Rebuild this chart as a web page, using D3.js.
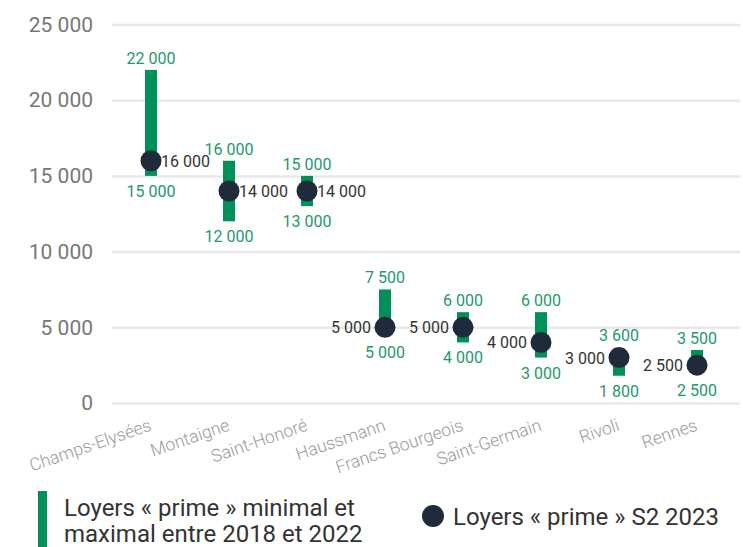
<!DOCTYPE html>
<html lang="fr"><head><meta charset="UTF-8">
<title>Loyers prime</title>
<script src="https://cdn.jsdelivr.net/npm/d3@7"></script>
<style>
  body { margin:0; background:#fff; }
  text { font-family: "Roboto", "Noto Sans", sans-serif; }
</style>
</head>
<body>
<div id="svg_div"></div>
<script>
// données
var rues = ["Champs-Elysées","Montaigne","Saint-Honoré","Haussmann","Francs Bourgeois","Saint-Germain","Rivoli","Rennes"];
var minVals = [15000,12000,13000,5000,4000,3000,1800,2500];
var maxVals = [22000,16000,15000,7500,6000,6000,3600,3500];
var s2Vals  = [16000,14000,14000,5000,5000,4000,3000,2500];
var yTicks  = [0,5000,10000,15000,20000,25000];
var labelRight = [true,true,true,false,false,false,false,false]; // position de l'étiquette du point

var green = "#00915a", dark = "#1f2b3a";
var R = 10.5;
// séparateur de milliers = espace
var fmt = d3.formatLocale({decimal:",", thousands:" ", grouping:[3], currency:["","€"]}).format(",d");

var W = 743, H = 547;
var svg = d3.select("#svg_div").append("svg").attr("width",W).attr("height",H);

var x = d3.scalePoint().domain(rues).range([151,697]);
var y = d3.scaleLinear().domain([0,25000]).range([403,24.5]);

// grille + axe y
var yAxis = d3.axisLeft(y).tickValues(yTicks).tickFormat(fmt).tickSize(-628).tickPadding(19);
var gy = svg.append("g").attr("transform","translate(112,0)").call(yAxis);
gy.select(".domain").remove();
gy.selectAll(".tick line").attr("stroke","#e8e8e8").attr("stroke-width",2.5);
gy.selectAll(".tick text").attr("fill","#777").attr("font-size",21)
  .attr("font-family","'Liberation Sans', Arial, sans-serif");

// axe x (étiquettes inclinées)
var gx = svg.append("g").attr("transform","translate(0,403)")
  .call(d3.axisBottom(x).tickSize(0).tickPadding(0));
gx.select(".domain").remove();
gx.selectAll(".tick text")
  .attr("fill","#9a9a9a").attr("font-size",17.5).attr("font-weight",300)
  .attr("text-anchor","end").attr("dy",0)
  .attr("transform","translate(1,27) rotate(-19)");

var idx = d3.range(rues.length);

// barres min-max
svg.selectAll(".bar").data(idx).enter().append("rect")
  .attr("class","bar")
  .attr("x", function(i){ return x(rues[i]) - 6; })
  .attr("width",12)
  .attr("y", function(i){ return y(maxVals[i]); })
  .attr("height", function(i){ return y(minVals[i]) - y(maxVals[i]); })
  .attr("fill",green);

// étiquettes min / max (sous le point si celui-ci recouvre le bas de la barre)
svg.selectAll(".lmax").data(idx).enter().append("text")
  .attr("x", function(i){ return x(rues[i]); })
  .attr("y", function(i){ return Math.min(y(maxVals[i]), y(s2Vals[i]) - R) - 6; })
  .attr("text-anchor","middle").attr("font-size",16).attr("fill","#22996a")
  .text(function(i){ return fmt(maxVals[i]); });
svg.selectAll(".lmin").data(idx).enter().append("text")
  .attr("x", function(i){ return x(rues[i]); })
  .attr("y", function(i){ return Math.max(y(minVals[i]) + 21, y(s2Vals[i]) + R + 20); })
  .attr("text-anchor","middle").attr("font-size",16).attr("fill","#22996a")
  .text(function(i){ return fmt(minVals[i]); });

// points S2 2023
svg.selectAll(".dot").data(idx).enter().append("circle")
  .attr("cx", function(i){ return x(rues[i]); })
  .attr("cy", function(i){ return y(s2Vals[i]); })
  .attr("r",R).attr("fill",dark);

svg.selectAll(".ldot").data(idx).enter().append("text")
  .attr("x", function(i){ return x(rues[i]) + (labelRight[i] ? 10 : -14); })
  .attr("y", function(i){ return y(s2Vals[i]) + 6; })
  .attr("text-anchor", function(i){ return labelRight[i] ? "start" : "end"; })
  .attr("font-size",16).attr("fill","#333")
  .text(function(i){ return fmt(s2Vals[i]); });

// légende
var leg = svg.append("g");
leg.append("rect").attr("x",38).attr("y",491).attr("width",9).attr("height",56).attr("fill",green);
leg.append("text").attr("x",64).attr("y",516).attr("font-size",24).attr("fill","#333")
  .text("Loyers « prime » minimal et");
leg.append("text").attr("x",64).attr("y",542).attr("font-size",24).attr("fill","#333")
  .text("maximal entre 2018 et 2022");
leg.append("circle").attr("cx",433).attr("cy",516).attr("r",11).attr("fill",dark);
leg.append("text").attr("x",453).attr("y",525).attr("font-size",24).attr("fill","#333")
  .text("Loyers « prime » S2 2023");
</script>
</body></html>
